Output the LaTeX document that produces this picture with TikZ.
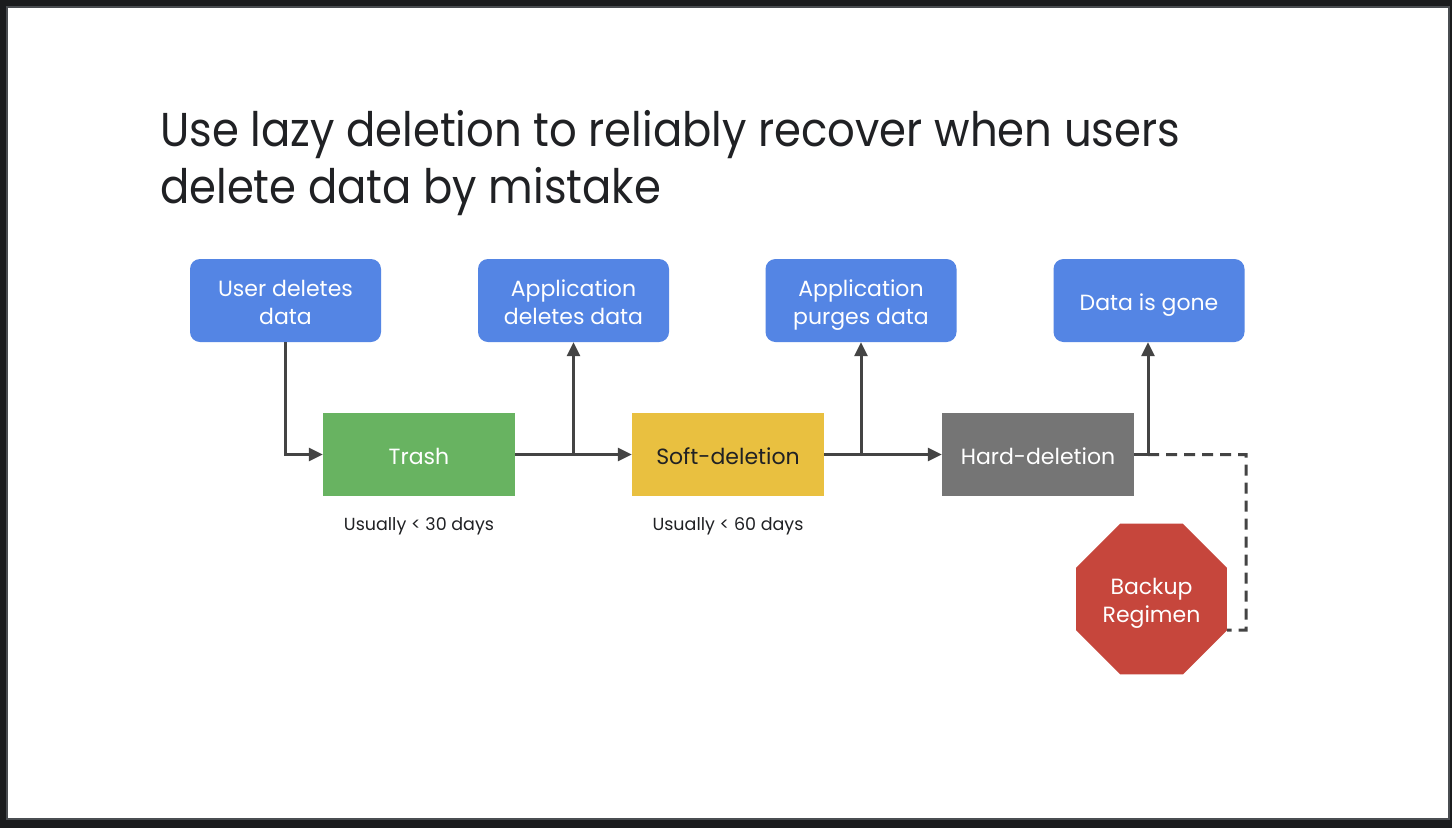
\documentclass[tikz,border=0pt]{standalone}
\usepackage{fontspec}
\setmainfont{Poppins}
\newfontfamily\titlefont{Poppins}[FakeStretch=0.913]
\usetikzlibrary{arrows.meta,shapes.geometric,calc}
\definecolor{frameout}{HTML}{1B1C1E}
\definecolor{frameline}{HTML}{4A4D51}
\definecolor{gblue}{HTML}{5485E4}
\definecolor{ggreen}{HTML}{68B361}
\definecolor{gyellow}{HTML}{E9C040}
\definecolor{ggray}{HTML}{757575}
\definecolor{gred}{HTML}{C6463C}
\definecolor{lineclr}{HTML}{444444}
\definecolor{txt}{HTML}{202124}
\newcommand\bxs{\rule[-6pt]{0pt}{31pt}}
\newcommand\boxfont{\fontsize{22}{28}\selectfont\lineskiplimit=-30pt\relax}
\tikzset{
  bluebox/.style={fill=gblue, rounded corners=10pt, minimum width=191pt, minimum height=83pt, inner sep=0pt, text=white, align=center, font=\boxfont},
  stagebox/.style={minimum width=192pt, minimum height=83pt, inner sep=0pt, align=center, font=\boxfont},
  note/.style={text=txt, inner sep=0pt, font=\fontsize{17.5}{21}\selectfont},
  conn/.style={draw=lineclr, line width=3pt},
  arr/.style={conn, -{Triangle[length=14pt,width=13pt]}},
}
\begin{document}
\begin{tikzpicture}[x=1pt,y=-1pt]
\fill[frameout] (0,0) rectangle (1452,828);
\fill[frameline] (6,6) rectangle (1450,820);
\fill[white] (8,8) rectangle (1448,818);
\useasboundingbox (0,0) rectangle (1452,828);

\node[anchor=base west, text=txt, inner sep=0pt, font=\titlefont\fontsize{47.5}{58}\selectfont] (title) at (160,146)
  {Use lazy deletion to reliably recover when users};
\node[anchor=base west, text=txt, inner sep=0pt, font=\titlefont\fontsize{47.5}{58}\selectfont] (title2) at (160,203)
  {delete data by mistake};

\node[bluebox] (user) at (285.5,300.5) {\bxs User deletes\\\bxs data};
\node[bluebox] (appdel) at (573.5,300.5) {\bxs Application\\\bxs deletes data};
\node[bluebox] (apppurge) at (861,300.5) {\bxs Application\\\bxs purges data};
\node[bluebox] (gone) at (1149,300.5) {\bxs Data is gone};

\node[stagebox, fill=ggreen, text=white] (trash) at (419,454.5) {\bxs Trash};
\node[stagebox, fill=gyellow, text=txt] (soft) at (728,454.5) {\bxs Soft-deletion};
\node[stagebox, fill=ggray, text=white] (hard) at (1038,454.5) {\bxs Hard-deletion};

\node[note, anchor=base] (n30) at (419,530) {Usually < 30 days};
\node[note, anchor=base] (n60) at (728,530) {Usually < 60 days};

\node[regular polygon, regular polygon sides=8, minimum size=163.4pt, inner sep=0pt, fill=gred, text=white, align=center, font=\boxfont] (backup) at (1151.5,599) {\bxs Backup\\\bxs Regimen};

\coordinate (b1) at (appdel.south |- trash.east);
\coordinate (b2) at (apppurge.south |- soft.east);
\coordinate (b3) at (1148,454.5);
\coordinate (d1) at (1246,454.5);
\coordinate (d2) at (1246,630);
\coordinate (d3) at ([yshift=-31pt]backup.east);

\draw[arr] (user.south) |- (trash.west);
\draw[arr] (trash.east) -- (soft.west);
\draw[arr] (b1) -- (appdel.south);
\draw[arr] (soft.east) -- (hard.west);
\draw[arr] (b2) -- (apppurge.south);
\draw[conn] (hard.east) -- (b3);
\draw[arr] (b3) -- (b3 |- gone.south);
\draw[conn, dash pattern=on 11pt off 7pt] (b3) -- (d1) -- (d2) -- (d3);
\end{tikzpicture}
\end{document}
